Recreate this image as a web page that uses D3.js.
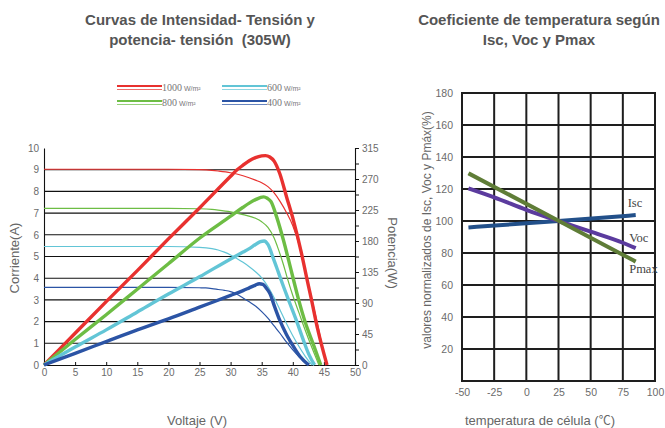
<!DOCTYPE html>
<html>
<head>
<meta charset="utf-8">
<script src="https://cdn.jsdelivr.net/npm/d3@7"></script>
<style>
  body { margin: 0; background: #fff; }
  svg { display: block; font-family: "Liberation Sans", Arial, sans-serif; }
  .tick text { fill: #6b6b6b; }
</style>
</head>
<body>
<svg width="665" height="428"></svg>
<script>
// ---- left chart data: I-V (thin) and P-V (thick) per irradiance ----
let irradiances = ["1000", "800", "600", "400"];
let colors = ["#e8312f", "#6dbd44", "#62c5d6", "#2b54a5"];

let iv1000 = [[0,9.02],[10,9.02],[20,9.02],[25,9.0],[27,8.97],[28,8.94],[30,8.86],[32,8.72],[34,8.52],[35,8.4],[36,8.22],[37,7.93],[38,7.52],[39,7.02],[40,6.42],[41,5.55],[42,4.35],[43,3.1],[44,1.85],[45,0.5],[45.4,0]];
let iv800 = [[0,7.22],[10,7.22],[20,7.22],[25,7.2],[27,7.17],[28,7.14],[30,7.06],[32,6.93],[34,6.76],[35,6.6],[36,6.34],[37,5.85],[37.5,5.48],[38,5.07],[38.5,4.62],[39,4.12],[40,3.2],[41,2.4],[42,1.6],[43,0.85],[44.2,0]];
let iv600 = [[0,5.46],[10,5.46],[20,5.46],[25,5.42],[27,5.36],[28,5.3],[29,5.2],[30,5.07],[31,4.91],[32,4.73],[33,4.53],[34,4.3],[35,4.02],[36,3.62],[37,3.1],[38,2.5],[39,1.9],[40,1.35],[41,0.85],[42,0.4],[43.1,0]];
let iv400 = [[0,3.58],[10,3.58],[20,3.58],[25,3.56],[26,3.55],[27,3.52],[28,3.48],[29,3.44],[30,3.38],[31,3.26],[32,3.09],[33,2.91],[34,2.72],[35,2.46],[36,2.16],[37,1.8],[38,1.44],[39,1.05],[40,0.7],[41,0.38],[42.3,0]];

let pv1000 = [[0,0],[5,46],[10,92],[15,137],[20,183],[25,228],[30,274],[31,283],[32,290],[33,296.5],[34,301],[35,303.5],[35.6,304],[36.3,302],[37,296],[37.9,278],[39,244],[40.1,210],[41.4,162],[42.2,128],[43,95],[44,52],[45.5,0]];
let pv800 = [[0,0],[5,37],[10,73],[15,110],[20,147],[25,184],[30,216],[32,229],[33,235],[34,240],[35.3,244],[35.9,242],[36.5,237],[37.4,215],[38.5,181],[39.8,135],[40.9,96],[42,62],[43.3,30],[44.5,0]];
let pv600 = [[0,0],[5,26],[10,51],[15,77],[20,103],[25,128],[30,154],[32,164],[33,169],[34,175],[34.8,179],[35.4,180],[36,175],[36.9,154],[37.7,134],[38.5,114],[39.5,90],[40.6,64],[41.7,36],[42.6,15],[43.5,0]];
let pv400 = [[0,0],[5,17],[10,34],[15,51],[20,67],[25,84],[30,101],[32,108],[33,112],[34,116],[34.6,118],[35.2,117],[35.7,112],[36.3,104],[37.1,84],[37.9,65],[39,44],[40.1,27],[41.2,12],[42.6,0]];

let ivSeries = [iv1000, iv800, iv600, iv400];
let pvSeries = [pv1000, pv800, pv600, pv400];

let voltTicks = [0, 5, 10, 15, 20, 25, 30, 35, 40, 45, 50];
let currentTicks = [0, 1, 2, 3, 4, 5, 6, 7, 8, 9, 10];
let powerTicks = [0, 22.5, 45, 67.5, 90, 112.5, 135, 157.5, 180, 202.5, 225, 247.5, 270, 292.5, 315];

// ---- right chart data: temperature coefficients ----
let tempTicks = [-50, -25, 0, 25, 50, 75, 100];
let pctTicks = [0, 20, 40, 60, 80, 100, 120, 140, 160, 180];
let coefNames = ["Isc", "Voc", "Pmax"];
let coefColors = ["#22508a", "#5b3b9e", "#5f7d37"];
let iscPts = [[-45,96],[25,100],[85,103.7]];
let vocPts = [[-45,120.4],[-25,114.8],[0,107],[25,100],[50,93.3],[75,86.4],[85,83]];
let pmaxPts = [[-45,129.8],[25,100.2],[85,74.6]];
let coefSeries = [iscPts, vocPts, pmaxPts];

let svg = d3.select("svg");

// ================= left chart =================
let x = d3.scaleLinear().domain([0, 50]).range([44, 355]);
let y = d3.scaleLinear().domain([0, 10]).range([365, 148]);
let yP = d3.scaleLinear().domain([0, 315]).range([365, 148]);

// horizontal grid
svg.append("g")
  .selectAll("line")
  .data(currentTicks.filter(d => d > 0 && d < 10))
  .enter()
  .append("line")
  .attr("x1", x(0)).attr("x2", x(50))
  .attr("y1", d => y(d)).attr("y2", d => y(d))
  .attr("stroke", "#111").attr("stroke-width", 1.1);

// left axis
let leftAxis = svg.append("g")
  .attr("transform", "translate(" + x(0) + ",0)")
  .call(d3.axisLeft(y).tickValues(currentTicks).tickSize(0).tickPadding(5));
leftAxis.select(".domain").attr("stroke", "#111").attr("stroke-width", 1.1);
leftAxis.selectAll("text").style("font-size", "10px");

// bottom axis (ticks inside)
let bottomAxis = svg.append("g")
  .attr("transform", "translate(0," + y(0) + ")")
  .call(d3.axisBottom(x).tickValues(voltTicks).tickSize(-3).tickPadding(4));
bottomAxis.select(".domain").attr("stroke", "#111").attr("stroke-width", 1.1);
bottomAxis.selectAll("line").attr("stroke", "#111");
bottomAxis.selectAll("text").style("font-size", "10px");

// right power axis
let rightAxis = svg.append("g")
  .attr("transform", "translate(" + x(50) + ",0)")
  .call(d3.axisRight(yP).tickValues(powerTicks).tickSize(4).tickPadding(3)
    .tickFormat(d => d % 45 === 0 ? d : ""));
rightAxis.select(".domain").attr("stroke", "#111").attr("stroke-width", 1.1);
rightAxis.selectAll("line").attr("stroke", "#111");
rightAxis.selectAll("text").style("font-size", "10px");

let ivLine = d3.line().x(d => x(d[0])).y(d => y(d[1])).curve(d3.curveMonotoneX);
let pvLine = d3.line().x(d => x(d[0])).y(d => yP(d[1])).curve(d3.curveMonotoneX);

svg.append("g")
  .selectAll("path")
  .data(ivSeries)
  .enter()
  .append("path")
  .attr("d", ivLine)
  .attr("fill", "none")
  .attr("stroke", (d, i) => colors[i])
  .attr("stroke-width", 1.2);

svg.append("g")
  .selectAll("path")
  .data(pvSeries)
  .enter()
  .append("path")
  .attr("d", pvLine)
  .attr("fill", "none")
  .attr("stroke", (d, i) => colors[i])
  .attr("stroke-width", 3.4)
  .attr("stroke-linejoin", "round");

// legend: 1000 / 600 on top row, 800 / 400 below
let legPos = [[117, 86], [117, 101], [222, 86], [222, 101]];
let legend = svg.append("g")
  .selectAll("g")
  .data(irradiances)
  .enter()
  .append("g")
  .attr("transform", (d, i) => "translate(" + legPos[i][0] + "," + legPos[i][1] + ")");

legend.append("line").attr("x1", 0).attr("x2", 45).attr("y1", 0).attr("y2", 0)
  .attr("stroke", (d, i) => colors[i]).attr("stroke-width", 2);
legend.append("line").attr("x1", 0).attr("x2", 45).attr("y1", 3.5).attr("y2", 3.5)
  .attr("stroke", (d, i) => colors[i]).attr("stroke-width", 1).attr("opacity", 0.7);
let legText = legend.append("text").attr("x", 45).attr("y", 5).attr("fill", "#777");
legText.append("tspan").text(d => d).style("font-family", "'Liberation Serif', serif").style("font-size", "10px");
legText.append("tspan").text(" W/m²").style("font-size", "7px");

// axis titles
svg.append("text").attr("transform", "translate(19,258) rotate(-90)")
  .attr("text-anchor", "middle").attr("fill", "#666").style("font-size", "13px")
  .text("Corriente(A)");
svg.append("text").attr("transform", "translate(388,253) rotate(90)")
  .attr("text-anchor", "middle").attr("fill", "#666").style("font-size", "13px")
  .text("Potencia(W)");
svg.append("text").attr("x", 197).attr("y", 425)
  .attr("text-anchor", "middle").attr("fill", "#666").style("font-size", "13px")
  .text("Voltaje (V)");

// title
let t1 = svg.append("text").attr("text-anchor", "middle").attr("fill", "#555")
  .style("font-size", "15px").style("font-weight", "bold");
t1.append("tspan").attr("x", 200).attr("y", 25).text("Curvas de Intensidad- Tensión y");
t1.append("tspan").attr("x", 200).attr("y", 45).attr("xml:space", "preserve").text("potencia- tensión  (305W)");

// ================= right chart =================
let xT = d3.scaleLinear().domain([-50, 100]).range([462, 655]);
let yT = d3.scaleLinear().domain([0, 180]).range([381, 93]);

svg.append("g")
  .selectAll("line")
  .data(tempTicks)
  .enter()
  .append("line")
  .attr("x1", d => xT(d)).attr("x2", d => xT(d))
  .attr("y1", yT(0) + 1).attr("y2", yT(180) - 1)
  .attr("stroke", "#1e1e1e").attr("stroke-width", 2);

svg.append("g")
  .selectAll("line")
  .data(pctTicks)
  .enter()
  .append("line")
  .attr("x1", xT(-50) - 1).attr("x2", xT(100) + 1)
  .attr("y1", d => yT(d)).attr("y2", d => yT(d))
  .attr("stroke", "#1e1e1e").attr("stroke-width", 2);

let tAxisY = svg.append("g")
  .attr("transform", "translate(" + xT(-50) + ",0)")
  .call(d3.axisLeft(yT).tickValues(pctTicks.filter(d => d > 0)).tickSize(0).tickPadding(9));
tAxisY.select(".domain").remove();
tAxisY.selectAll("text").style("font-size", "10.5px");

let tAxisX = svg.append("g")
  .attr("transform", "translate(0," + yT(0) + ")")
  .call(d3.axisBottom(xT).tickValues(tempTicks).tickSize(0).tickPadding(8).tickFormat(d => String(d)));
tAxisX.select(".domain").remove();
tAxisX.selectAll("text").style("font-size", "10.5px");

let coefLine = d3.line().x(d => xT(d[0])).y(d => yT(d[1])).curve(d3.curveMonotoneX);
svg.append("g")
  .selectAll("path")
  .data(coefSeries)
  .enter()
  .append("path")
  .attr("d", coefLine)
  .attr("fill", "none")
  .attr("stroke", (d, i) => coefColors[i])
  .attr("stroke-width", 4);

let labelOffsets = [[-8, -8], [-6.5, -6.5], [-6.5, 11.5]];
svg.append("g")
  .selectAll("text")
  .data(coefSeries)
  .enter()
  .append("text")
  .attr("x", (d, i) => xT(d[d.length - 1][0]) + labelOffsets[i][0])
  .attr("y", (d, i) => yT(d[d.length - 1][1]) + labelOffsets[i][1])
  .attr("fill", "#444")
  .style("font-family", "'Liberation Serif', serif")
  .style("font-size", "12.5px")
  .text((d, i) => coefNames[i]);

svg.append("text").attr("transform", "translate(431,230) rotate(-90)")
  .attr("text-anchor", "middle").attr("fill", "#666").style("font-size", "12px")
  .text("valores normalizados de Isc, Voc y Pmáx(%)");
let xl = svg.append("text").attr("x", 540).attr("y", 425)
  .attr("text-anchor", "middle").attr("fill", "#666").style("font-size", "13px");
xl.append("tspan").text("temperatura de célula (");
xl.append("tspan").style("font-family", "'Noto Sans CJK SC', sans-serif").style("font-size", "12px").text("℃");
xl.append("tspan").text(")");

let t2 = svg.append("text").attr("text-anchor", "middle").attr("fill", "#555")
  .style("font-size", "15px").style("font-weight", "bold");
t2.append("tspan").attr("x", 539).attr("y", 25).text("Coeficiente de temperatura según");
t2.append("tspan").attr("x", 539).attr("y", 45).text("Isc, Voc y Pmax");
</script>
</body>
</html>
